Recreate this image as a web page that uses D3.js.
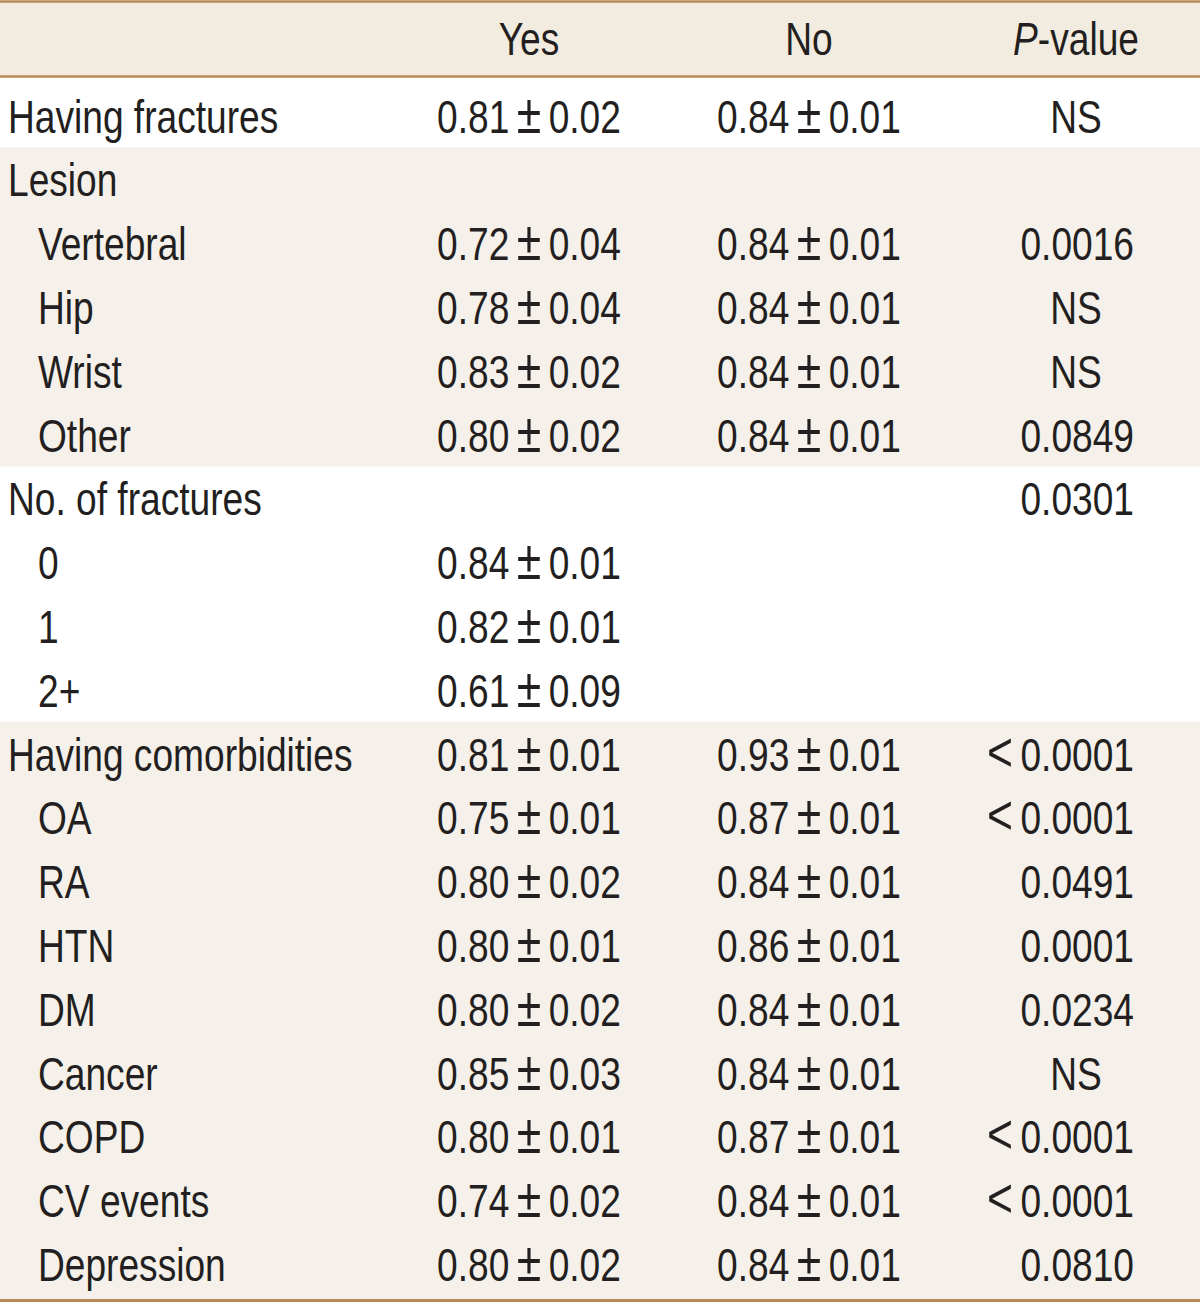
<!DOCTYPE html>
<html><head><meta charset="utf-8">
<script src="https://cdn.jsdelivr.net/npm/d3@7"></script>
<style>html,body{margin:0;padding:0;background:#fff;}svg{display:block;}</style>
</head><body>
<svg id="c" width="1200" height="1303"></svg>
<script>
// ---- data ----
const headers = ["", "Yes", "No", "P-value"];
const labels = ["Having fractures","Lesion","Vertebral","Hip","Wrist","Other","No. of fractures","0","1","2+",
  "Having comorbidities","OA","RA","HTN","DM","Cancer","COPD","CV events","Depression"];
const indent = [0,0,1,1,1,1,0,1,1,1,0,1,1,1,1,1,1,1,1];
const yesMean = ["0.81",null,"0.72","0.78","0.83","0.80",null,"0.84","0.82","0.61","0.81","0.75","0.80","0.80","0.80","0.85","0.80","0.74","0.80"];
const yesSE   = ["0.02",null,"0.04","0.04","0.02","0.02",null,"0.01","0.01","0.09","0.01","0.01","0.02","0.01","0.02","0.03","0.01","0.02","0.02"];
const noMean  = ["0.84",null,"0.84","0.84","0.84","0.84",null,null,null,null,"0.93","0.87","0.84","0.86","0.84","0.84","0.87","0.84","0.84"];
const noSE    = ["0.01",null,"0.01","0.01","0.01","0.01",null,null,null,null,"0.01","0.01","0.01","0.01","0.01","0.01","0.01","0.01","0.01"];
const pValues = ["NS",null,"0.0016","NS","NS","0.0849","0.0301",null,null,null,"<0.0001","<0.0001","0.0491","0.0001","0.0234","NS","<0.0001","<0.0001","0.0810"];
const shadedGroups = [[1,5],[10,18]];

// ---- layout ----
const W = 1200;
const FONT = "'Liberation Sans Narrow','Arial Narrow',sans-serif";
const FS = 47, SX = 0.79;
const TXT = "#231f20", BORDER = "#b98a57", HEADBG = "#f2ebdf", SHADE = "#f5f0ea";
const svg = d3.select("#c");
const y = d3.scaleLinear().domain([0, labels.length-1]).range([115.5, 1263.9]);
const step = y(1)-y(0);
const colX = {label0: 8, label1: 38, yes: 529, no: 809, pC: 1076, pR: 1134};

// header background
svg.append("rect").attr("x",0).attr("y",2).attr("width",W).attr("height",75).attr("fill",HEADBG);
// shaded groups
shadedGroups.forEach(([a,b])=>{
  const top = y(a)-step/2, bot = (b===labels.length-1)? 1299 : y(b)+step/2;
  svg.append("rect").attr("x",0).attr("y",top).attr("width",W).attr("height",bot-top).attr("fill",SHADE);
});
// borders
[[1.5,2.5],[76.5,2.5],[1300.5,3]].forEach(([yy,w])=>{
  svg.append("line").attr("x1",0).attr("x2",W).attr("y1",yy).attr("y2",yy).attr("stroke",BORDER).attr("stroke-width",w);
});

function txt(x, cy, parts, anchor){
  const t = svg.append("text")
    .attr("transform",`translate(${x},${cy+17}) scale(${SX},1)`)
    .attr("text-anchor",anchor||"start")
    .attr("font-family",FONT).attr("font-size",FS).attr("fill",TXT);
  if (typeof parts === "string") parts = [{t:parts}];
  parts.forEach(p=>t.append("tspan")
    .attr("font-style",p.it?"italic":null)
    .attr("font-size",p.big?FS*1.2:null)
    .attr("font-family",p.big?"'Liberation Sans',sans-serif":null)
    .text(p.t));
  return t;
}
// headers
txt(colX.yes, 38, headers[1], "middle");
txt(colX.no, 38, headers[2], "middle");
txt(colX.pC, 38, [{t:"P",it:true},{t:"-value"}], "middle");

const pm = (m,s)=> m==null?null:[{t:m+"\u2009"},{t:"\u00B1",big:true},{t:"\u2009"+s}];
labels.forEach((lab,i)=>{
  const cy = y(i);
  txt(indent[i]?colX.label1:colX.label0, cy, lab);
  const yv = pm(yesMean[i],yesSE[i]); if (yv) txt(colX.yes, cy, yv, "middle");
  const nv = pm(noMean[i],noSE[i]); if (nv) txt(colX.no, cy, nv, "middle");
  const p = pValues[i];
  if (p) {
    if (p==="NS") txt(colX.pC, cy, p, "middle");
    else if (p.startsWith("<")) txt(colX.pR, cy, [{t:"<",big:true},{t:"\u2009"+p.slice(1)}], "end");
    else txt(colX.pR, cy, p, "end");
  }
});
</script>
</body></html>
